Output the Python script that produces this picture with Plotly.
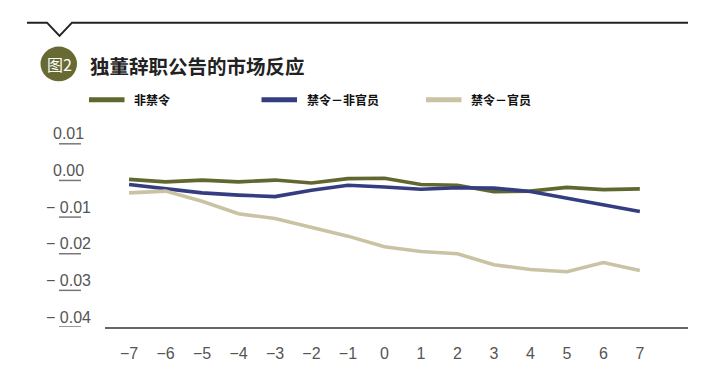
import plotly.graph_objects as go

# ---- data ----
days = [-7, -6, -5, -4, -3, -2, -1, 0, 1, 2, 3, 4, 5, 6, 7]
non_ban = [0.0003, -0.0004, 0.0001, -0.0004, 0.0001, -0.0007, 0.0005, 0.0006,
           -0.0011, -0.0013, -0.0031, -0.0029, -0.0019, -0.0025, -0.0023]
ban_non_official = [-0.0011, -0.0023, -0.0034, -0.0040, -0.0044, -0.0027, -0.0013, -0.0018,
                    -0.0024, -0.0020, -0.0021, -0.0030, -0.0048, -0.0065, -0.0085]
ban_official = [-0.0034, -0.0029, -0.0057, -0.0091, -0.0104, -0.0128, -0.0152, -0.0181,
                -0.0194, -0.0200, -0.0230, -0.0243, -0.0249, -0.0224, -0.0246]
series_names = ["非禁令", "禁令－非官员", "禁令－官员"]
y_ticks = [0.01, 0.0, -0.01, -0.02, -0.03, -0.04]
y_tick_text = ["0.01", "0.00", "\u2212 0.01", "\u2212 0.02", "\u2212 0.03", "\u2212 0.04"]
x_tick_text = [("\u2212" + str(-d)) if d < 0 else str(d) for d in days]
title_text = "独董辞职公告的市场反应"
badge_text = "图2"

colors = ["#61682f", "#343d80", "#c9c3a3"]

W, H = 705, 374
L, R, T, B = 105, 17, 120, 35
PW, PH = W - L - R, H - T - B


def px(x):
    return (x - L) / PW


def py(y):
    return (H - B - y) / PH


fig = go.Figure()
for name, vals, c in zip(series_names, [non_ban, ban_non_official, ban_official], colors):
    fig.add_trace(go.Scatter(x=days, y=vals, mode="lines", name=name,
                             line=dict(color=c, width=3.6), showlegend=False))

shapes = []
annotations = []

# top decoration line with notch
shapes.append(dict(type="path", xref="paper", yref="paper",
                   path=f"M {px(27)} {py(17)} L {px(47)} {py(17)} L {px(59.5)} {py(31)} "
                        f"L {px(72)} {py(17)} L {px(688)} {py(17)}",
                   line=dict(color="#222222", width=2)))
# badge circle
shapes.append(dict(type="circle", xref="paper", yref="paper",
                   x0=px(40.5), x1=px(77), y0=py(42.3), y1=py(79)),
              )
shapes[-1].update(fillcolor="#676a32", line=dict(width=0))
annotations.append(dict(xref="paper", yref="paper", x=px(59.5), y=py(60.5), text=badge_text,
                        showarrow=False, xanchor="center", yanchor="middle",
                        font=dict(family="Noto Sans CJK SC", size=16, color="white")))
annotations.append(dict(xref="paper", yref="paper", x=px(88), y=py(62), text="<b>" + title_text + "</b>",
                        showarrow=False, xanchor="left", yanchor="middle",
                        font=dict(family="Noto Sans CJK SC", size=19.5, color="#222222")))

# legend
leg_x = [89, 261.5, 426]
for lx, name, c in zip(leg_x, series_names, colors):
    shapes.append(dict(type="line", xref="paper", yref="paper",
                       x0=px(lx), x1=px(lx + 35.5), y0=py(98.5), y1=py(98.5),
                       line=dict(color=c, width=5)))
    annotations.append(dict(xref="paper", yref="paper", x=px(lx + 43), y=py(98.5),
                            text="<b>" + name + "</b>", showarrow=False,
                            xanchor="left", yanchor="middle",
                            font=dict(family="Noto Sans CJK SC", size=12, color="#111111")))

# y tick labels with underlines
for v, t in zip(y_ticks, y_tick_text):
    shapes.append(dict(type="line", xref="paper", yref="y",
                       x0=px(59), x1=px(81), y0=v, y1=v,
                       line=dict(color="#777777", width=1.5)))
    annotations.append(dict(xref="paper", yref="y", x=px(68.5), y=v, yshift=10,
                            text=t, showarrow=False, xanchor="center", yanchor="middle",
                            font=dict(family="Liberation Sans", size=16, color="#555555")))

fig.update_layout(
    width=W, height=H, autosize=False,
    margin=dict(l=L, r=R, t=T, b=B, pad=0),
    paper_bgcolor="white", plot_bgcolor="white",
    shapes=shapes, annotations=annotations,
    showlegend=False,
    xaxis=dict(range=[-7.66, 8.32], tickvals=days, ticktext=x_tick_text,
               showgrid=False, zeroline=False, showline=True, linecolor="#666666", linewidth=1.5,
               ticks="", ticklabelstandoff=11,
               tickfont=dict(family="Liberation Sans", size=16, color="#555555")),
    yaxis=dict(range=[-0.04, 0.0165], showgrid=False, zeroline=False, showline=False,
               showticklabels=False, ticks=""),
)

fig.write_html("out.html",
               config={"displayModeBar": False, "responsive": False},
               default_width="705px", default_height="374px",
               post_script="document.body.style.margin='0px';"
                           "document.documentElement.style.overflow='hidden';"
                           "document.body.style.overflow='hidden';")
